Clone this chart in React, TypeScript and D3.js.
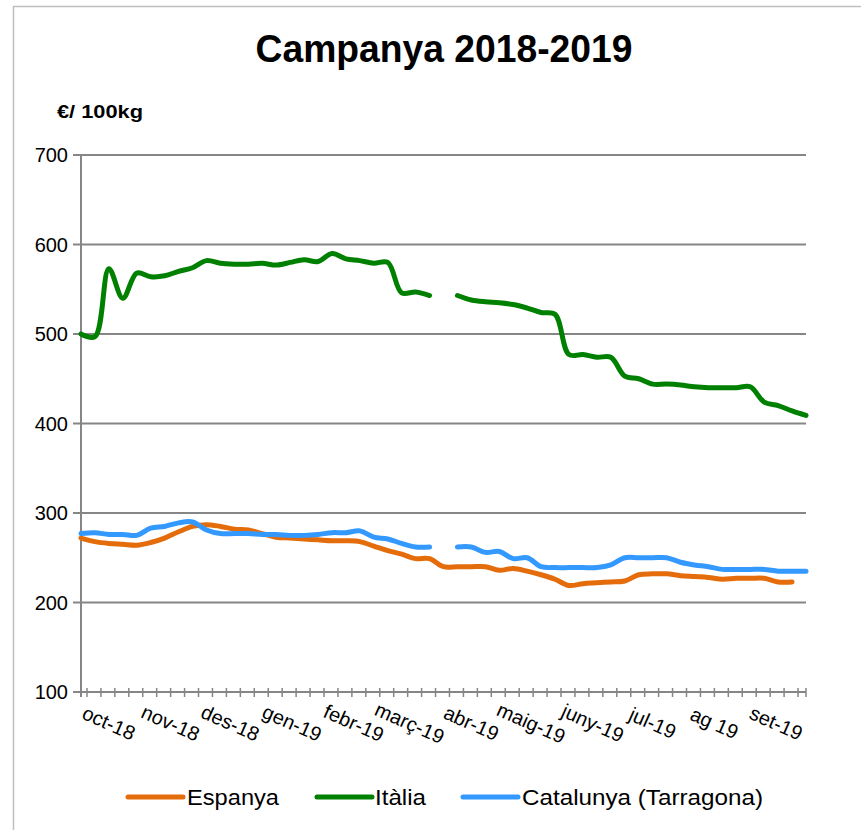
import React from "react";
import * as d3 from "d3";

const title = "Campanya 2018-2019";
const unitLabel = "€/ 100kg";
const seriesNames = ["Espanya", "Itàlia", "Catalunya (Tarragona)"];
const seriesColors = ["#E46C0A", "#008000", "#3399FF"];
const yTicks = [100, 200, 300, 400, 500, 600, 700];
const monthLabels = ["oct-18", "nov-18", "des-18", "gen-19", "febr-19", "març-19", "abr-19", "maig-19", "juny-19", "jul-19", "ag 19", "set-19"];

// weekly observations, Monday Oct 1 2018 .. Monday Sep 30 2019
const weeks = d3.timeMonday.range(new Date(2018, 9, 1), new Date(2019, 9, 1));

const espanya = [272,268,266,265,264,267,272,279,285,287,285,282,281,277,273,272,271,270,269,269,268,263,258,254,249,249,240,240,240,240,236,238,235,231,226,219,221,222,223,224,231,232,232,230,229,228,226,227,227,227,223,223,null];
const italia = [500,497,573,540,568,564,565,570,574,582,579,578,578,579,577,580,583,581,590,584,582,579,580,546,547,543,null,543,538,536,535,533,529,524,522,477,477,474,474,453,450,444,444,443,441,440,440,440,441,424,420,414,409];
const catalunya = [277,278,276,276,275,283,285,289,290,281,277,277,277,276,276,275,275,276,278,278,280,273,271,266,262,262,null,262,262,256,257,249,250,240,239,239,239,239,242,250,250,250,250,245,242,240,237,237,237,237,235,235,235];

const series = [espanya, italia, catalunya];

export default function App() {
  const W = 861, H = 830;
  const x0 = 81, x1 = 806, yTop = 155, yBot = 692;
  const x = d3.scaleTime().domain([weeks[0], weeks[weeks.length - 1]]).range([x0, x1]);
  const y = d3.scaleLinear().domain([100, 700]).range([yBot, yTop]);
  const line = d3.line<number | null>()
    .defined((d) => d != null)
    .x((_, i) => x(weeks[i]))
    .y((d) => y(d as number))
    .curve(d3.curveCatmullRom.alpha(0.5));

  const tickDates = d3.timeThursday.range(weeks[0], weeks[weeks.length - 1]);
  tickDates.push(weeks[weeks.length - 1]);
  const months = d3.timeMonth.range(new Date(2018, 9, 1), new Date(2019, 9, 1)).map((m) => d3.timeDay.offset(m, 14));

  const grid = "#868686";
  const legendItems = [
    { lx: 128, tx: 187, tw: 92 },
    { lx: 317, tx: 375, tw: 51 },
    { lx: 463, tx: 522, tw: 241 },
  ];

  return (
    <svg width={W} height={H} style={{ position: "absolute", left: 0, top: 0, background: "#fff" }} fontFamily="'Liberation Sans', Arial, sans-serif">
      <rect x={13.5} y={6.5} width={W} height={H} fill="#fff" stroke="#BFBFBF" strokeWidth={1.5} />
      <text x={444} y={62} textAnchor="middle" fontSize={38} fontWeight="bold" textLength={377} lengthAdjust="spacingAndGlyphs">{title}</text>
      <text x={57} y={118} fontSize={19} fontWeight="bold" textLength={86} lengthAdjust="spacingAndGlyphs">{unitLabel}</text>

      {yTicks.map((t) => (
        <g key={t}>
          <line x1={73} x2={x1} y1={y(t)} y2={y(t)} stroke={grid} strokeWidth={2} />
          <text x={68} y={y(t)} dy="0.35em" textAnchor="end" fontSize={20}>{t}</text>
        </g>
      ))}
      <line x1={x0} x2={x0} y1={yTop} y2={yBot + 5} stroke={grid} strokeWidth={2} />
      {tickDates.map((d, i) => (
        <line key={i} x1={x(d)} x2={x(d)} y1={yBot - 4} y2={yBot + 5} stroke={grid} strokeWidth={1.5} />
      ))}
      {months.map((m, i) => (
        <text key={i} transform={`translate(${x(m)},${723}) rotate(24)`} textAnchor="middle" dominantBaseline="central" fontSize={20}>{monthLabels[i]}</text>
      ))}

      {series.map((s, i) => (
        <path key={i} d={line(s) || ""} fill="none" stroke={seriesColors[i]} strokeWidth={5} strokeLinecap="round" strokeLinejoin="round" />
      ))}

      {legendItems.map((it, i) => (
        <g key={i}>
          <line x1={it.lx} x2={it.lx + 55} y1={797} y2={797} stroke={seriesColors[i]} strokeWidth={5} strokeLinecap="round" />
          <text x={it.tx} y={797} dy="0.35em" fontSize={22} textLength={it.tw} lengthAdjust="spacingAndGlyphs">{seriesNames[i]}</text>
        </g>
      ))}
    </svg>
  );
}
